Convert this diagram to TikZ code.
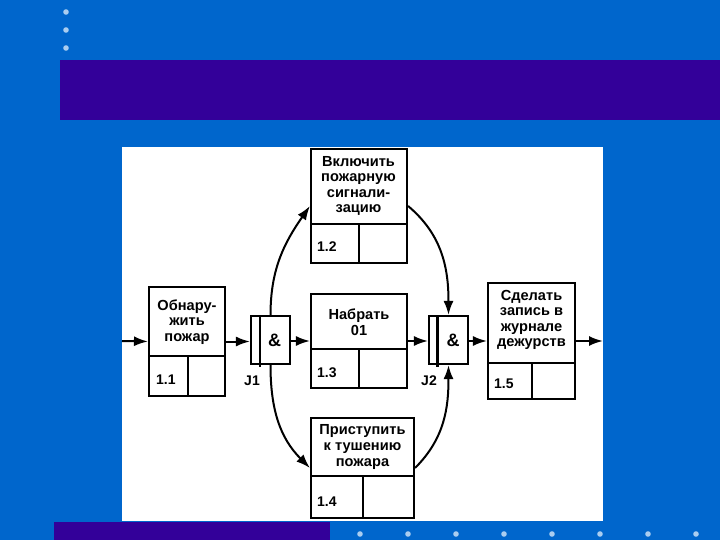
\documentclass[tikz,border=0pt]{standalone}
\usepackage{fontspec}
\setmainfont{Liberation Sans}
\usetikzlibrary{arrows.meta}
\definecolor{bgblue}{RGB}{0,102,204}
\definecolor{band}{RGB}{51,0,153}
\definecolor{dotc}{RGB}{170,205,240}
\begin{document}
\begin{tikzpicture}[x=1pt,y=-1pt,
  box/.style={draw,line width=2.1pt,fill=white,inner sep=0pt},
  jbox/.style={draw,line width=2.1pt,fill=white,inner sep=0pt,minimum width=39pt,minimum height=48pt},
  div/.style={line width=2.1pt},
  txt/.style={font=\bfseries\fontsize{14.6}{15.6}\selectfont,align=center,inner sep=0pt},
  num/.style={font=\bfseries\fontsize{14}{15}\selectfont,inner sep=0pt,anchor=west},
  amp/.style={font=\bfseries\fontsize{18}{19}\selectfont,inner sep=0pt},
  jl/.style={font=\bfseries\fontsize{14}{15}\selectfont,inner sep=0pt},
  conn/.style={line width=2pt,-{Latex[length=14pt,width=10pt]}},
  bul/.style={fill=dotc,draw=none}]
% background
\fill[bgblue] (0,0) rectangle (720,540);
\useasboundingbox (0,0) rectangle (720,540);
\fill[band] (60,60) rectangle (720,120);
\fill[band] (54,522) rectangle (330,540);
\foreach \y in {12,30,48} \fill[bul] (66,\y) circle (2.8);
\foreach \x in {360,408,456,504,552,600,648,696} \fill[bul] (\x,534) circle (2.8);
\fill[white] (122,147) rectangle (603,521);
% boxes
\node[box,minimum width=76pt,minimum height=109pt] (b11) at (187,341.5) {};
\draw[div] (149,356) -- (225,356) (188,356) -- (188,396);
\node[txt] (t11) at (187,322) {Обнару-\\жить\\пожар};
\node[num] (n11) at (156,380) {1.1};

\node[box,minimum width=96pt,minimum height=114pt] (b12) at (359,206) {};
\draw[div] (311,224) -- (407,224) (359,224) -- (359,263);
\node[txt] (t12) at (358.5,186) {Включить\\пожарную\\сигнали-\\зацию};
\node[num] (n12) at (317,247) {1.2};

\node[box,minimum width=96pt,minimum height=94pt] (b13) at (359,341) {};
\draw[div] (311,349) -- (407,349) (359,349) -- (359,388);
\node[txt] (t13) at (359,322) {Набрать\\01};
\node[num] (n13) at (317,373) {1.3};

\node[box,minimum width=103pt,minimum height=100pt] (b14) at (362.5,468) {};
\draw[div] (311,476) -- (414,476) (363,476) -- (363,518);
\node[txt] (t14) at (362.5,447) {Приступить\\к тушению\\пожара};
\node[num] (n14) at (317,502) {1.4};

\node[box,minimum width=87pt,minimum height=116pt] (b15) at (531.5,341) {};
\draw[div] (488,363) -- (575,363) (532,363) -- (532,399);
\node[txt] (t15) at (531.5,320) {Сделать\\запись в\\журнале\\дежурств};
\node[num] (n15) at (494,384) {1.5};

% junctions
\node[jbox] (j1) at (270.5,340) {};
\draw[div] (260,316) -- (260,367);
\node[amp] (a1) at (274.5,340) {\&};
\node[jl] (l1) at (252,381) {J1};

\node[jbox] (j2) at (448.5,340) {};
\draw[div] (437.5,316) -- (437.5,367);
\node[amp] (a2) at (453,340) {\&};
\node[jl] (l2) at (429,381) {J2};

% connectors
\coordinate (src) at (122,341);
\coordinate (dst) at (603,341);
\draw[conn] (src) -- (b11.west);
\draw[conn] (b11.east) -- (j1.west |- b11.east);
\draw[conn] (j1.east |- b13.west) -- (b13.west);
\draw[conn] (b13.east) -- (j2.west |- b13.east);
\draw[conn] (j2.east |- b15.west) -- (b15.west);
\draw[conn] (b15.east) -- (dst);
\draw[conn] (j1.north) to[out=90,in=235] (b12.west);
\draw[conn] (j1.south) to[out=-90,in=135] (b14.west);
\draw[conn] (b12.east) to[out=-40,in=90] (j2.north);
\draw[conn] (b14.east) to[out=45,in=-90] (j2.south);
\end{tikzpicture}
\end{document}
